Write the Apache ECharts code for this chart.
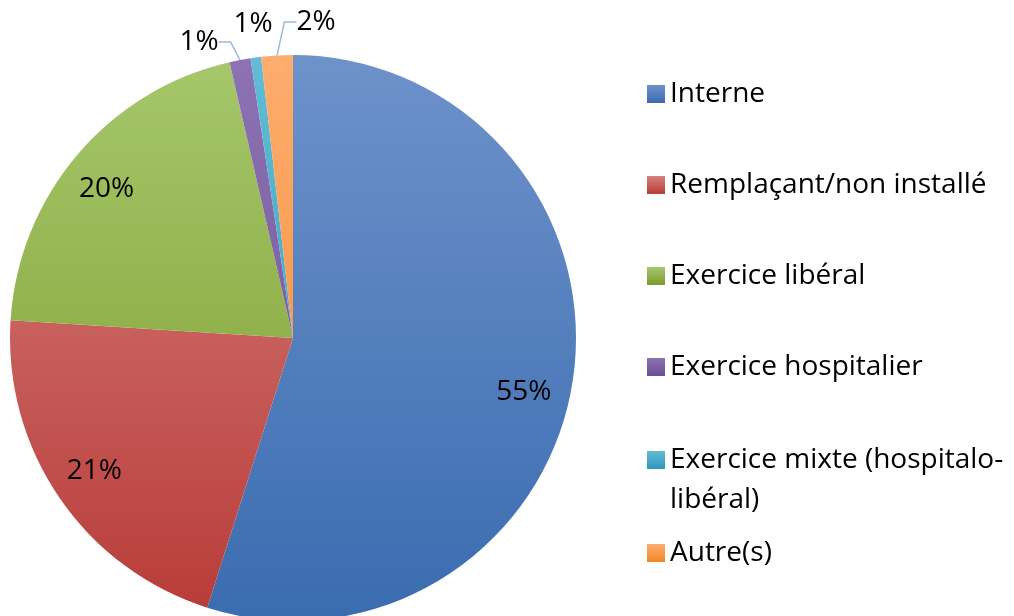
<!DOCTYPE html>
<html>
<head>
<meta charset="utf-8">
<script src="https://cdn.jsdelivr.net/npm/echarts@6/dist/echarts.min.js"></script>
<style>
  html, body { margin: 0; padding: 0; background: #fff; }
  #main { width: 1014px; height: 616px; }
</style>
</head>
<body>
<div id="main"></div>
<script>
// données
var categories = ['Interne', 'Remplaçant/non installé', 'Exercice libéral', 'Exercice hospitalier', 'Exercice mixte (hospitalo-libéral)', 'Autre(s)']
var values = [54.9, 21.1, 20.4, 1.2, 0.6, 1.8]
var topColors = ['#6e92ca', '#d6827f', '#a6c76b', '#8d73b2', '#62bcd5', '#fdad6e']
var bottomColors = ['#3a6cb0', '#b83b38', '#7c9b2c', '#6a4d96', '#2e98ba', '#f3852a']

var font = 'Open Sans'
var cx = 293
var cy = 338
var R = 283

var myChart = echarts.init(document.getElementById('main'))

var pieData = categories.map(function (name, i) {
  return {
    name: name,
    value: values[i],
    itemStyle: {
      color: new echarts.graphic.LinearGradient(0, cy - R, 0, cy + R, [
        { offset: 0, color: topColors[i] },
        { offset: 1, color: bottomColors[i] }
      ], true)
    }
  }
})

// anneau invisible qui porte les étiquettes
var labelData = categories.map(function (name, i) {
  var small = values[i] < 5
  return {
    name: name,
    value: values[i],
    label: {
      position: small ? 'outside' : 'inside'
    },
    labelLine: { show: small && values[i] > 1 }
  }
})

// placement manuel des étiquettes (comme dans Excel)
var labelNudge = [[-7, 17], [0, -3], [-3, 7]]
var outsidePos = { 3: [199, 42], 4: [253, 24], 5: [316, 22] }

// une légende par entrée
var legendCenters = [94, 185, 276, 367, 460, 553]
var legends = categories.map(function (name, i) {
  var multi = name.indexOf('hospitalo-') >= 0
  return {
    orient: 'vertical',
    left: 647,
    top: multi ? legendCenters[i] - 60 : legendCenters[i] - 20,
    padding: 0,
    itemWidth: 18,
    itemHeight: 18,
    icon: 'rect',
    selectedMode: false,
    data: [{
      name: name,
      itemStyle: {
        color: new echarts.graphic.LinearGradient(0, 0, 0, 1, [
          { offset: 0, color: topColors[i] },
          { offset: 1, color: bottomColors[i] }
        ])
      }
    }],
    formatter: function (n) {
      return n.indexOf('hospitalo-') >= 0 ? '\n' + n.replace('hospitalo-', 'hospitalo-\n') : n
    },
    textStyle: {
      fontFamily: font,
      fontSize: 28,
      color: '#000',
      lineHeight: 40
    }
  }
})

myChart.setOption({
  animation: false,
  legend: legends,
  series: [
    {
      type: 'pie',
      center: [cx, cy],
      radius: [0, R],
      startAngle: 90,
      clockwise: true,
      label: { show: false },
      labelLine: { show: false },
      itemStyle: { borderWidth: 0 },
      data: pieData
    },
    {
      type: 'pie',
      silent: true,
      center: [cx, cy],
      radius: [R * 0.68, R],
      startAngle: 90,
      clockwise: true,
      percentPrecision: 0,
      itemStyle: { color: 'rgba(0,0,0,0)', borderWidth: 0 },
      label: {
        show: true,
        formatter: '{d}%',
        fontFamily: font,
        fontSize: 28,
        color: '#000'
      },
      labelLine: {
        length: 12,
        length2: 12,
        lineStyle: { color: '#97b9e3', width: 1.5 }
      },
      labelLayout: function (params) {
        var i = params.dataIndex
        if (outsidePos[i]) {
          return { x: outsidePos[i][0], y: outsidePos[i][1], align: 'center', verticalAlign: 'middle' }
        }
        return { dx: labelNudge[i][0], dy: labelNudge[i][1] }
      },
      data: labelData
    }
  ]
})
</script>
</body>
</html>
